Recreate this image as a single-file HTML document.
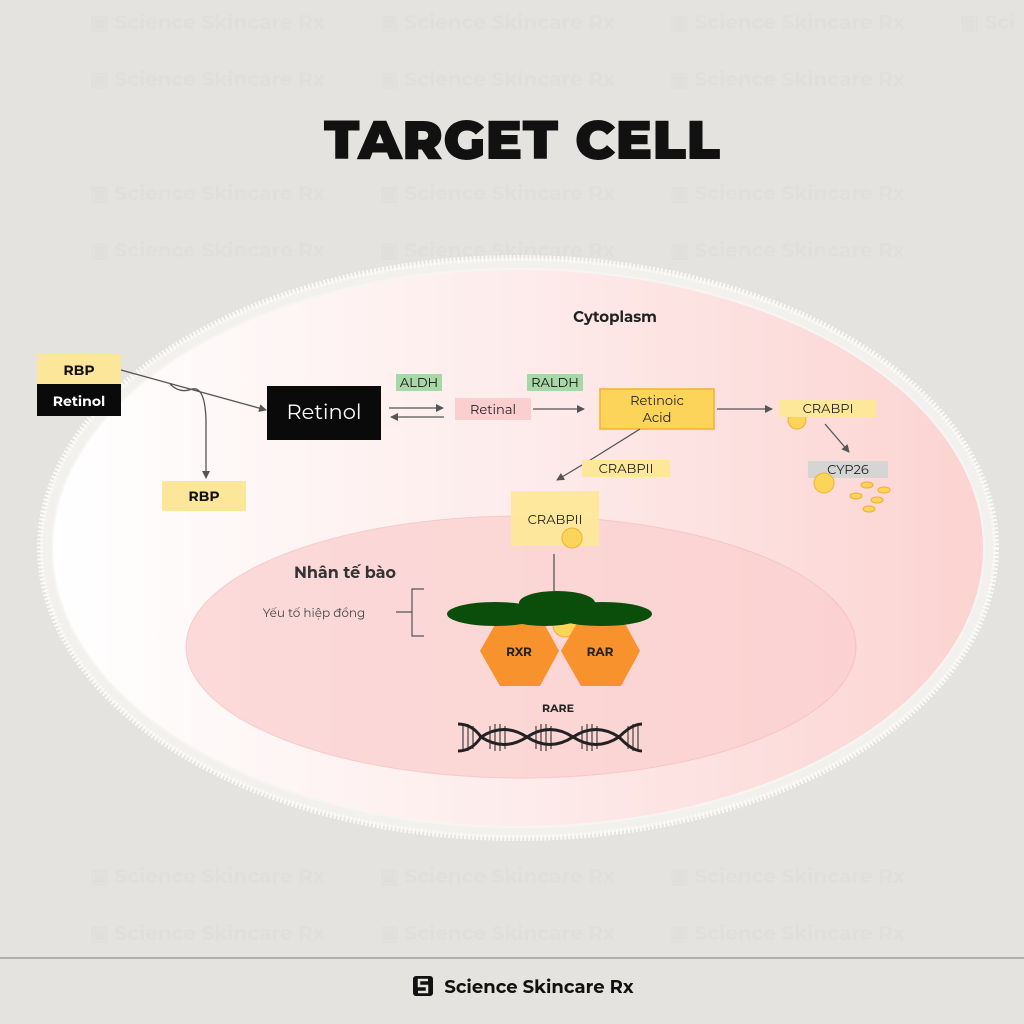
<!DOCTYPE html>
<html><head><meta charset="utf-8"><style>
html,body{margin:0;padding:0;background:#e5e3df;}
svg{display:block;font-family:"Montserrat","Liberation Sans",sans-serif;}
</style></head><body>
<svg width="1024" height="1024" viewBox="0 0 1024 1024" xmlns="http://www.w3.org/2000/svg">
<defs>
<linearGradient id="cg" x1="0" x2="1" y1="0" y2="0">
<stop offset="0" stop-color="#ffffff"/><stop offset="0.5" stop-color="#fdeceb"/><stop offset="1" stop-color="#fcd3d1"/>
</linearGradient>
<marker id="ar" markerWidth="8" markerHeight="8" refX="7" refY="4" orient="auto" markerUnits="userSpaceOnUse"><path d="M0,0 L8,4 L0,8 Z" fill="#555"/></marker>
</defs>
<rect width="1024" height="1024" fill="#e5e3df"/>
<g fill="#d9d6d2" font-size="20" font-weight="bold" opacity="0.25">
<text x="90" y="29">▣ Science Skincare Rx</text><text x="380" y="29">▣ Science Skincare Rx</text><text x="670" y="29">▣ Science Skincare Rx</text><text x="960" y="29">▣ Sci</text>
<text x="90" y="86">▣ Science Skincare Rx</text><text x="380" y="86">▣ Science Skincare Rx</text><text x="670" y="86">▣ Science Skincare Rx</text>
<text x="90" y="200">▣ Science Skincare Rx</text><text x="380" y="200">▣ Science Skincare Rx</text><text x="670" y="200">▣ Science Skincare Rx</text>
<text x="90" y="257">▣ Science Skincare Rx</text><text x="380" y="257">▣ Science Skincare Rx</text><text x="670" y="257">▣ Science Skincare Rx</text>
<text x="90" y="883">▣ Science Skincare Rx</text><text x="380" y="883">▣ Science Skincare Rx</text><text x="670" y="883">▣ Science Skincare Rx</text>
<text x="90" y="940">▣ Science Skincare Rx</text><text x="380" y="940">▣ Science Skincare Rx</text><text x="670" y="940">▣ Science Skincare Rx</text>
</g>
<text x="522" y="159" text-anchor="middle" font-size="55" font-weight="900" fill="#111">TARGET CELL</text>
<ellipse cx="518" cy="548" rx="478" ry="290" fill="#f3f1ee" stroke="#fafafa" stroke-width="6" stroke-dasharray="2 2"/>
<ellipse cx="518" cy="548" rx="466" ry="279" fill="url(#cg)" stroke="#f7f5f3" stroke-width="2"/>
<ellipse cx="521" cy="647" rx="335" ry="131" fill="#fbd0cf" stroke="#f6bcbc" stroke-width="1" opacity="0.75"/>
<text x="615" y="322" text-anchor="middle" font-size="15" font-weight="bold" fill="#222">Cytoplasm</text>
<rect x="37" y="354" width="84" height="30" fill="#fce69a"/>
<text x="79" y="375" text-anchor="middle" font-size="14" font-weight="bold" fill="#111">RBP</text>
<rect x="37" y="384" width="84" height="32" fill="#0a0a0a"/>
<text x="79" y="406" text-anchor="middle" font-size="14" font-weight="bold" fill="#fff">Retinol</text>
<path d="M121,370 L266,410" stroke="#555" stroke-width="1.3" fill="none" marker-end="url(#ar)"/>
<path d="M170,384 Q180,394 192,389 Q205,386 206,420 L206,478" stroke="#555" stroke-width="1.3" fill="none" marker-end="url(#ar)"/>
<rect x="162" y="481" width="84" height="30" fill="#fce69a"/>
<text x="204" y="501" text-anchor="middle" font-size="14" font-weight="bold" fill="#111">RBP</text>
<rect x="267" y="386" width="114" height="54" fill="#0a0a0a"/>
<text x="324" y="419" text-anchor="middle" font-size="21" fill="#fff">Retinol</text>
<rect x="396" y="374" width="46" height="17" fill="#a8d8a8"/>
<text x="419" y="387" text-anchor="middle" font-size="13" fill="#111">ALDH</text>
<path d="M389,408 L443,408" stroke="#555" stroke-width="1.3" marker-end="url(#ar)"/>
<path d="M444,417 L391,417" stroke="#555" stroke-width="1.3" marker-end="url(#ar)"/>
<rect x="455" y="398" width="76" height="22" fill="#fbcfcf"/>
<text x="493" y="414" text-anchor="middle" font-size="13" fill="#222">Retinal</text>
<rect x="527" y="374" width="56" height="17" fill="#a8d8a8"/>
<text x="555" y="387" text-anchor="middle" font-size="13" fill="#111">RALDH</text>
<path d="M533,409 L584,409" stroke="#555" stroke-width="1.3" marker-end="url(#ar)"/>
<rect x="600" y="389" width="114" height="40" fill="#fdd45a" stroke="#f3b030" stroke-width="1.5"/>
<text x="657" y="405" text-anchor="middle" font-size="13" fill="#222">Retinoic</text>
<text x="657" y="422" text-anchor="middle" font-size="13" fill="#222">Acid</text>
<path d="M717,409 L772,409" stroke="#555" stroke-width="1.3" marker-end="url(#ar)"/>
<circle cx="797" cy="420" r="9" fill="#fdd45a" stroke="#f0b030"/>
<rect x="779" y="400" width="97" height="17" fill="#fde89a"/>
<text x="828" y="413" text-anchor="middle" font-size="13" fill="#222">CRABPI</text>
<path d="M825,424 L849,452" stroke="#555" stroke-width="1.3" marker-end="url(#ar)"/>
<rect x="808" y="461" width="80" height="17" fill="#d5d5d5"/>
<text x="848" y="474" text-anchor="middle" font-size="13" fill="#222">CYP26</text>
<circle cx="824" cy="483" r="10" fill="#fdd45a" stroke="#f0b030"/>
<g fill="#fdd45a" stroke="#f0b030"><ellipse cx="867" cy="485" rx="6" ry="3"/><ellipse cx="884" cy="490" rx="6" ry="3"/><ellipse cx="856" cy="496" rx="6" ry="3"/><ellipse cx="877" cy="500" rx="6" ry="3"/><ellipse cx="869" cy="509" rx="6" ry="3"/></g>
<path d="M640,429 L592,459" stroke="#555" stroke-width="1.3" fill="none"/>
<path d="M592,459 L557,480" stroke="#555" stroke-width="1.3" fill="none" marker-end="url(#ar)"/>
<rect x="582" y="460" width="88" height="17" fill="#fde89a"/>
<text x="626" y="473" text-anchor="middle" font-size="13" fill="#222">CRABPII</text>
<rect x="511" y="491" width="88" height="55" fill="#fde89a" opacity="0.95"/>
<text x="555" y="524" text-anchor="middle" font-size="13" fill="#222">CRABPII</text>
<circle cx="572" cy="538" r="10" fill="#fdd45a" stroke="#f0b030"/>
<line x1="554" y1="554" x2="554" y2="603" stroke="#555" stroke-width="1.3"/>
<text x="345" y="578" text-anchor="middle" font-size="16" font-weight="bold" fill="#333">Nhân tế bào</text>
<text x="314" y="617" text-anchor="middle" font-size="12" fill="#444">Yếu tố hiệp đồng</text>
<path d="M396,612 L412,612 M424,589 L412,589 L412,636 L424,636" stroke="#555" stroke-width="1.2" fill="none"/>
<circle cx="565" cy="625" r="12" fill="#fdd45a" stroke="#f0b030"/>
<polygon points="480,651 500,616 540,616 559,651 540,686 500,686" fill="#f7922d"/>
<polygon points="561,651 581,616 621,616 640,651 621,686 581,686" fill="#f7922d"/>
<ellipse cx="495" cy="614" rx="48" ry="12" fill="#0b4e0b"/>
<ellipse cx="602" cy="614" rx="50" ry="12" fill="#0b4e0b"/>
<ellipse cx="557" cy="603" rx="38" ry="12" fill="#0b4e0b"/>
<ellipse cx="545" cy="614" rx="40" ry="12" fill="#0b4e0b"/>
<text x="519" y="656" text-anchor="middle" font-size="12" font-weight="bold" fill="#222">RXR</text>
<text x="600" y="656" text-anchor="middle" font-size="12" font-weight="bold" fill="#222">RAR</text>
<text x="558" y="712" text-anchor="middle" font-size="11" font-weight="bold" fill="#222">RARE</text>
<g stroke="#222" fill="none">
<g stroke-width="1">
<line x1="463" y1="724" x2="463" y2="751"/><line x1="468" y1="724" x2="468" y2="751"/><line x1="473" y1="726" x2="473" y2="749"/>
<line x1="490" y1="726" x2="490" y2="749"/><line x1="495" y1="724" x2="495" y2="751"/><line x1="500" y1="724" x2="500" y2="751"/><line x1="505" y1="726" x2="505" y2="749"/>
<line x1="536" y1="726" x2="536" y2="749"/><line x1="541" y1="724" x2="541" y2="751"/><line x1="546" y1="724" x2="546" y2="751"/><line x1="551" y1="726" x2="551" y2="749"/>
<line x1="582" y1="726" x2="582" y2="749"/><line x1="587" y1="724" x2="587" y2="751"/><line x1="592" y1="724" x2="592" y2="751"/><line x1="597" y1="726" x2="597" y2="749"/>
<line x1="628" y1="726" x2="628" y2="749"/><line x1="633" y1="724" x2="633" y2="751"/><line x1="638" y1="724" x2="638" y2="751"/>
</g>
<path d="M458,724 Q472,724 481,737 Q504,752 527,737 Q550,722 573,737 Q596,752 619,737 Q632,724 642,724" stroke-width="3"/>
<path d="M458,751 Q472,751 481,737 Q504,722 527,737 Q550,752 573,737 Q596,722 619,737 Q632,751 642,751" stroke-width="3"/>
</g>
<line x1="0" y1="958" x2="1024" y2="958" stroke="#777" stroke-width="1"/>
<rect x="413" y="976" width="20" height="20" rx="3" fill="#111"/>
<path d="M428,980 L419,980 L419,986 L427,986 L427,992 L418,992" stroke="#e5e3df" stroke-width="2.5" fill="none"/>
<text x="539" y="993" text-anchor="middle" font-size="18" font-weight="bold" fill="#111">Science Skincare Rx</text>
</svg>
</body></html>
